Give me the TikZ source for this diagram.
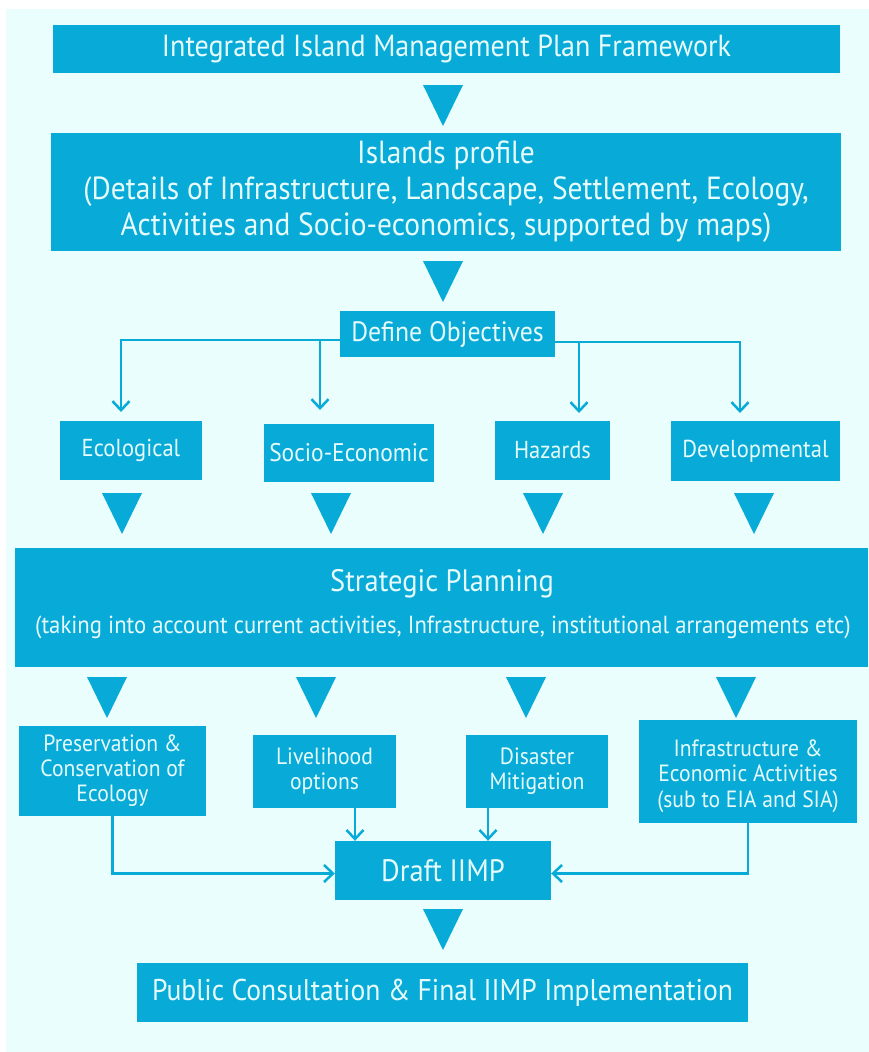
\documentclass[tikz,border=0pt]{standalone}
\usepackage{fontspec}
\setmainfont[FakeStretch=0.92]{PT Sans}
\usetikzlibrary{arrows.meta,calc}
\definecolor{bgc}{RGB}{234,254,254}
\definecolor{boxc}{RGB}{8,170,216}
\definecolor{txtc}{RGB}{230,251,251}
\newcommand\tri[2]{\fill[boxc] (#1-20,#2) -- (#1+20,#2) -- (#1,#2+41) -- cycle;}
\begin{document}
\begin{tikzpicture}[x=1pt,y=-1pt,
  bx/.style={fill=boxc, text=txtc, inner sep=0pt, align=center},
  conn/.style={draw=boxc, line width=2.5pt, -{Straight Barb[length=9pt,width=17pt,line width=2.5pt]}}]
\useasboundingbox (0,0) rectangle (869,1052);
\fill[bgc] (6,9) rectangle (869,1052);
% boxes
\node[bx, minimum width=787, minimum height=48, font=\fontsize{30.5}{34}\selectfont] (title) at (446.5,49) {Integrated Island Management Plan Framework};
\node[bx, minimum width=790, minimum height=118, font=\fontsize{32}{36}\selectfont] (prof) at (446,192) {Islands profile\\(Details of Infrastructure, Landscape, Settlement, Ecology,\\Activities and Socio-economics, supported by maps)};
\node[bx, minimum width=215, minimum height=46, font=\fontsize{28}{32}\selectfont] (defobj) at (447.5,334) {Define Objectives};
\node[bx, minimum width=142, minimum height=59, font=\fontsize{24.5}{28}\selectfont] (eco) at (131,450.5) {Ecological};
\node[bx, minimum width=170, minimum height=58, font=\fontsize{25.5}{28}\selectfont] (soc) at (349,453) {Socio-Economic};
\node[bx, minimum width=115, minimum height=59, font=\fontsize{24.5}{28}\selectfont] (haz) at (552.5,450.5) {Hazards};
\node[bx, minimum width=169, minimum height=60, font=\fontsize{24.5}{28}\selectfont] (dev) at (755.5,451) {Developmental};
\node[bx, minimum width=853, minimum height=119] (strat) at (441.5,607) {};
\node[text=txtc, font=\fontsize{31}{34}\selectfont, inner sep=0pt] (stratT) at (442,584) {Strategic Planning};
\node[text=txtc, font=\fontsize{24.7}{28}\selectfont, inner sep=0pt] (stratS) at (443,627) {(taking into account current activities, Infrastructure, institutional arrangements etc)};
\node[bx, minimum width=187, minimum height=90, font=\fontsize{23.5}{25}\selectfont] (pres) at (112.5,771) {Preservation \&\\Conservation of\\Ecology};
\node[bx, minimum width=143, minimum height=73, font=\fontsize{23.5}{25}\selectfont] (liv) at (324.5,771.5) {Livelihood\\options};
\node[bx, minimum width=142, minimum height=73, font=\fontsize{23.5}{25}\selectfont] (dis) at (537,771.5) {Disaster\\Mitigation};
\node[bx, minimum width=218, minimum height=103] (inf) at (748,771.5) {};
\node[text=txtc, align=center, inner sep=0pt, font=\fontsize{23.5}{25.5}\selectfont] (infT) at (748,776) {Infrastructure \&\\Economic Activities\\(sub to EIA and SIA)};
\node[bx, minimum width=216, minimum height=59, font=\fontsize{31}{34}\selectfont] (draft) at (443,870.5) {Draft IIMP};
\node[bx, minimum width=611, minimum height=59, font=\fontsize{30}{34}\selectfont] (pub) at (442.5,992.5) {Public Consultation \& Final IIMP Implementation};
% big triangles
\tri{443}{85}
\tri{443}{261}
\tri{122}{493}
\tri{331}{493}
\tri{543}{493}
\tri{754}{493}
\tri{107}{677}
\tri{316}{677}
\tri{526}{677}
\tri{736}{677}
\tri{443}{909}
% connectors from Define Objectives
\coordinate (ecoT) at (121,412);
\coordinate (socT) at (320,410);
\coordinate (hazT) at (579,413);
\coordinate (devT) at (740,413);
\draw[conn] ([yshift=-6pt]defobj.west) -| (ecoT);
\draw[conn] ([yshift=-6pt]defobj.west -| socT) -- (socT);
\draw[conn] ([yshift=-8pt]defobj.east) -| (devT);
\draw[conn] ([yshift=-8pt]defobj.east -| hazT) -- (hazT);
% connectors to Draft IIMP
\draw[conn] (pres.south) |- ([yshift=-3pt]draft.west);
\draw[conn] (inf.south) |- ([yshift=-3pt]draft.east);
\draw[conn] ([xshift=30.5pt]liv.south) -- ([xshift=30.5pt]liv.south |- draft.north);
\draw[conn] ([xshift=-49pt]dis.south) -- ([xshift=-49pt]dis.south |- draft.north);
\end{tikzpicture}
\end{document}
